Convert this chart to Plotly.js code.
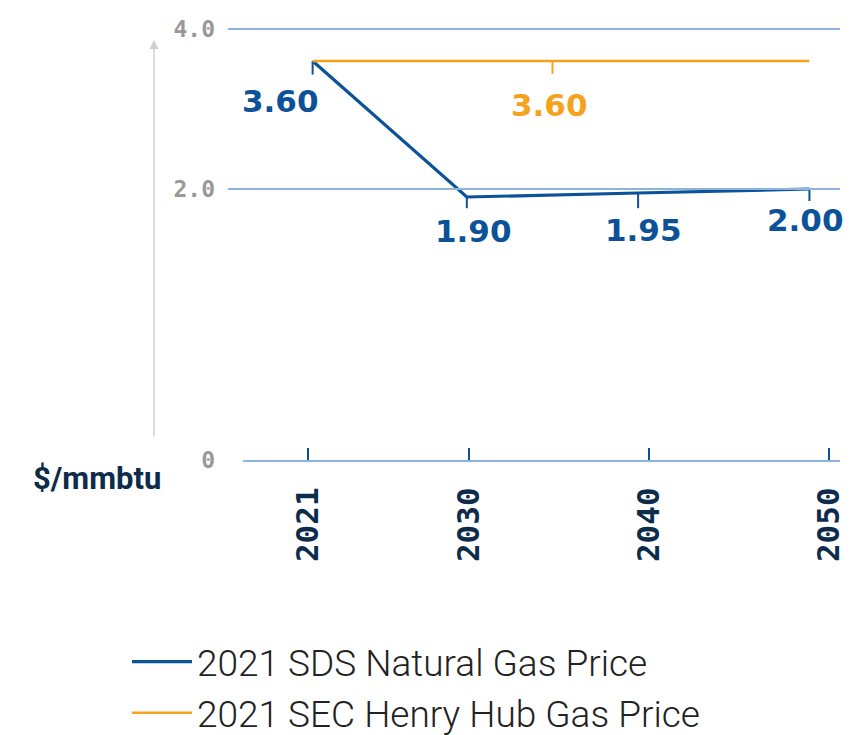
<!DOCTYPE html>
<html>
<head>
<meta charset="utf-8">
<script src="https://cdn.plot.ly/plotly-3.0.1.min.js"></script>
<style>html,body{margin:0;padding:0;background:#fff;}#chart{width:850px;height:735px;}</style>
</head>
<body>
<div id="chart"></div>
<script>
// ---- data ----
const years = [2021, 2030, 2040, 2050];
const sdsPrice = [3.60, 1.90, 1.95, 2.00];
const secYears = [2021, 2035, 2050];
const secPrice = [3.60, 3.60, 3.60];
const xTickYears = [2021, 2030, 2040, 2050];
const xTickLabels = ['2021', '2030', '2040', '2050'];
const yTickLabels = ['0', '2.0', '4.0'];
const seriesNames = ['2021 SDS Natural Gas Price', '2021 SEC Henry Hub Gas Price'];

// ---- styling ----
const BLUE = '#0b5299';
const ORANGE = '#f7a21c';
const GRID = '#8fb4dc';
const NAVY = '#0d2c4c';
const GREY = '#999999';
const ZERO_POS = -1.3875;   // broken-axis position of the "0" baseline
const W = 850, H = 735, MT = 13, MB = 275;
const plotH = H - MT - MB;
const px = v => v / W;                 // paper x from pixel
const py = v => (H - MB - v) / plotH;  // paper y from pixel

const traces = [
  {
    x: years, y: sdsPrice, name: seriesNames[0], type: 'scatter', mode: 'lines',
    line: {color: BLUE, width: 3.2}, xaxis: 'x', yaxis: 'y', legendgroup: 'a',
    error_y: {type: 'data', symmetric: false, array: [0, 0, 0, 0],
              arrayminus: [0.17, 0.14, 0.19, 0.15], color: BLUE, thickness: 2, width: 0}
  },
  {
    x: secYears, y: secPrice, name: seriesNames[1], type: 'scatter', mode: 'lines',
    line: {color: ORANGE, width: 2.5}, xaxis: 'x', yaxis: 'y', legendgroup: 'b',
    error_y: {type: 'data', symmetric: false, array: [0, 0, 0],
              arrayminus: [0, 0.16, 0], color: ORANGE, thickness: 2, width: 0}
  },
  {x: [], y: [], xaxis: 'x2', yaxis: 'y', showlegend: false, hoverinfo: 'skip', type: 'scatter'}
];

const labelFont = c => ({family: 'DejaVu Sans', size: 31, color: c, weight: 'bold'});

const annotations = [
  {xref: 'x', yref: 'y', x: years[0], y: sdsPrice[0], text: sdsPrice[0].toFixed(2),
   showarrow: false, xanchor: 'right', yanchor: 'top', xshift: 8, yshift: -20, font: labelFont(BLUE)},
  {xref: 'x', yref: 'y', x: years[1], y: sdsPrice[1], text: sdsPrice[1].toFixed(2),
   showarrow: false, xanchor: 'center', yanchor: 'top', xshift: 7, yshift: -14, font: labelFont(BLUE)},
  {xref: 'x', yref: 'y', x: years[2], y: sdsPrice[2], text: sdsPrice[2].toFixed(2),
   showarrow: false, xanchor: 'center', yanchor: 'top', xshift: 5, yshift: -17, font: labelFont(BLUE)},
  {xref: 'x', yref: 'y', x: years[3], y: sdsPrice[3], text: sdsPrice[3].toFixed(2),
   showarrow: false, xanchor: 'center', yanchor: 'top', xshift: -4, yshift: -11, font: labelFont(BLUE)},
  {xref: 'x', yref: 'y', x: secYears[1], y: secPrice[1], text: secPrice[1].toFixed(2),
   showarrow: false, xanchor: 'center', yanchor: 'top', xshift: -3, yshift: -24, font: labelFont(ORANGE)},
  {xref: 'paper', yref: 'paper', x: px(163), y: py(478), text: '$/mmbtu', showarrow: false,
   xanchor: 'right', yanchor: 'middle', font: {family: 'Roboto', size: 31, color: NAVY, weight: 'bold'}},
  {xref: 'paper', yref: 'paper', x: px(154), y: py(40), ax: px(154), ay: py(438),
   axref: 'paper', ayref: 'paper', text: '', showarrow: true, arrowhead: 2, arrowsize: 1.2,
   arrowwidth: 1.5, arrowcolor: '#cfcfcf', standoff: 0, startstandoff: 0}
];

const layout = {
  width: W, height: H,
  margin: {l: 0, r: 0, t: MT, b: MB, autoexpand: false},
  paper_bgcolor: '#fff', plot_bgcolor: 'rgba(0,0,0,0)',
  showlegend: true,
  xaxis: {
    domain: [px(228), px(812)], range: [2016.06, 2050.15],
    showgrid: false, zeroline: false, showline: false, showticklabels: false, ticks: '',
    fixedrange: true
  },
  xaxis2: {
    domain: [px(243), px(840)], range: [2017.41, 2050.61], anchor: 'y',
    tickmode: 'array', tickvals: xTickYears, ticktext: xTickLabels,
    showgrid: false, zeroline: false, showline: true, linecolor: GRID, linewidth: 2,
    ticks: 'inside', ticklen: 12, tickwidth: 2, tickcolor: BLUE,
    tickangle: -90, ticklabelstandoff: 13,
    tickfont: {family: 'DejaVu Sans Mono', size: 31, color: NAVY, weight: 'bold'}
  },
  yaxis: {
    anchor: 'x', range: [ZERO_POS, 4.2],
    tickmode: 'array', tickvals: [ZERO_POS, 2, 4], ticktext: yTickLabels,
    showgrid: true, gridcolor: GRID, gridwidth: 1.5, zeroline: false, showline: false,
    ticks: '', ticklabelstandoff: 12,
    tickfont: {family: 'DejaVu Sans Mono', size: 23, color: GREY, weight: 'bold'}
  },
  legend: {
    x: px(127), y: py(631), xanchor: 'left', yanchor: 'top',
    orientation: 'v', tracegroupgap: 0, itemwidth: 60,
    font: {family: 'Roboto', size: 37, color: '#222', weight: 300},
    bgcolor: 'rgba(0,0,0,0)'
  },
  annotations: annotations
};

Plotly.newPlot('chart', traces, layout, {displayModeBar: false, staticPlot: true});
</script>
</body>
</html>
